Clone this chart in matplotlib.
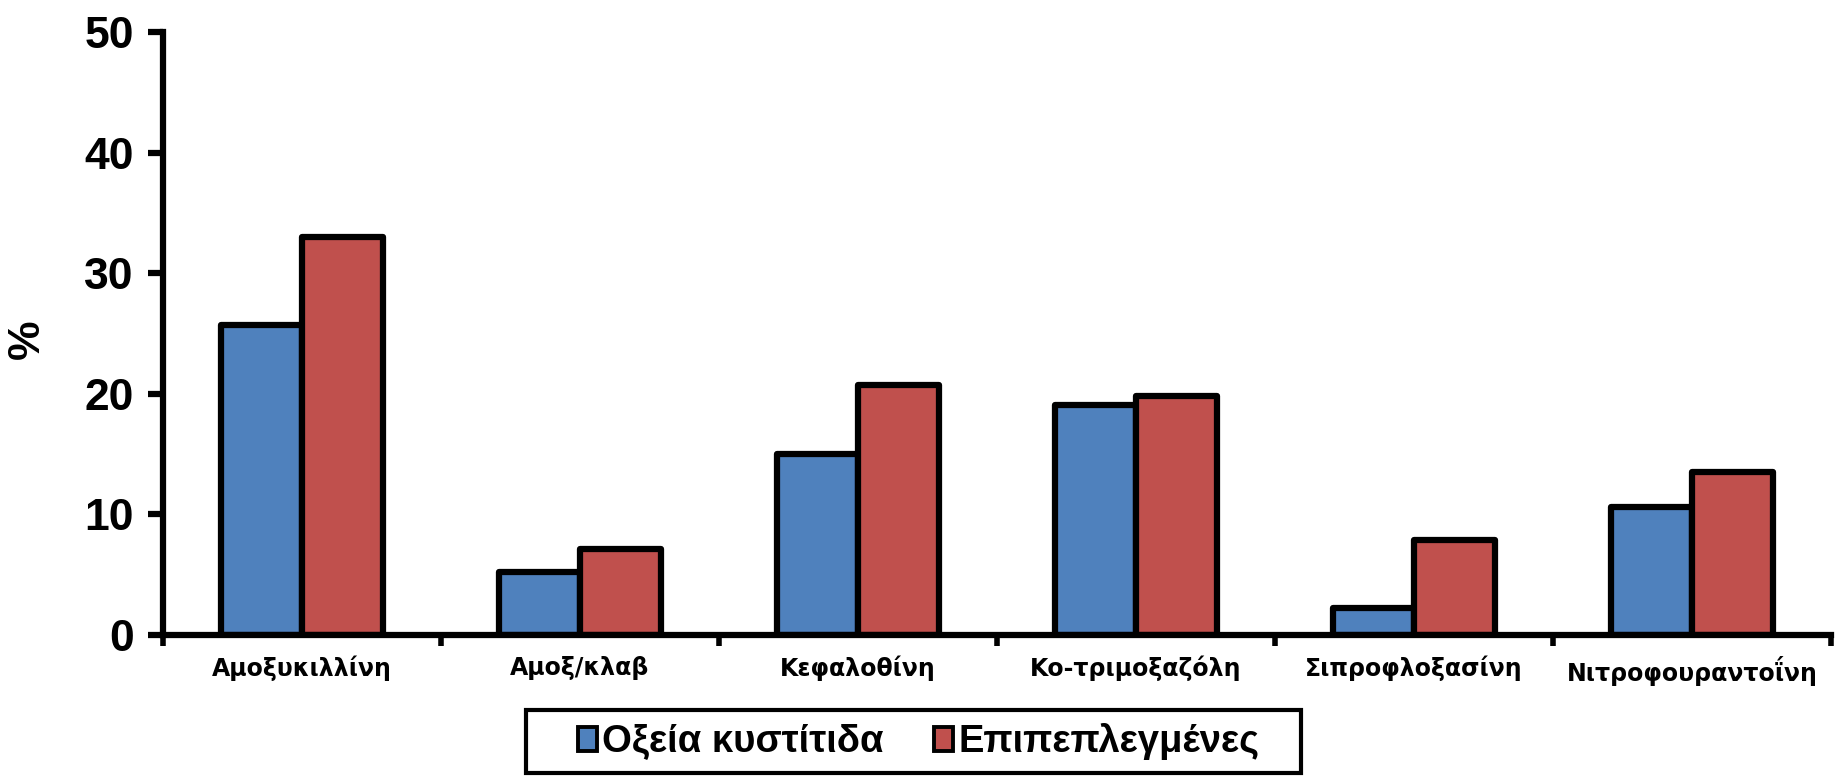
import numpy as np
import matplotlib.pyplot as plt
from matplotlib.patches import Patch, Rectangle

plt.rcParams['font.family'] = ['Liberation Sans', 'DejaVu Sans']
plt.rcParams['font.weight'] = 'bold'

antibiotics = ['Αμοξυκιλλίνη', 'Αμοξ/κλαβ', 'Κεφαλοθίνη', 'Κο-τριμοξαζόλη',
               'Σιπροφλοξασίνη', 'Νιτροφουραντοΐνη']
acute = [25.7, 5.2, 15.0, 19.1, 2.2, 10.6]
complicated = [33.0, 7.1, 20.7, 19.8, 7.9, 13.5]
series_names = ['Οξεία κυστίτιδα', 'Επιπεπλεγμένες']
colors = ['#4F81BD', '#C0504D']

fig = plt.figure(figsize=(18.37, 7.76), dpi=100)
ax = fig.add_axes([0.0887, 0.1817, 0.908, 0.7771])

x = np.arange(len(antibiotics))
w = 0.29
for i, vals in enumerate([acute, complicated]):
    bars = ax.bar(x + (i - 0.5) * w, vals, w, color=colors[i], edgecolor='black',
                  linewidth=4.5, zorder=3)
    for b in bars:
        b.set_joinstyle('round')

ax.set_xlim(-0.5, len(antibiotics) - 0.5)
ax.set_ylim(0, 50)
ax.set_yticks(range(0, 51, 10))
ax.set_xticks(np.arange(len(antibiotics) + 1) - 0.5)
ax.set_xticklabels([])
ax.set_xticks(x, minor=True)
ax.set_xticklabels(antibiotics, minor=True, fontsize=17, fontweight='bold',
                   fontfamily=['DejaVu Sans'])
ax.tick_params(axis='x', which='minor', length=0, pad=15)
ax.tick_params(axis='x', which='major', direction='out', length=8, width=4)
ax.tick_params(axis='y', direction='out', length=11, width=4.5, labelsize=32, pad=10)
for lab in ax.get_yticklabels():
    lab.set_fontweight('bold')

for side in ['top', 'right']:
    ax.spines[side].set_visible(False)
for side in ['left', 'bottom']:
    ax.spines[side].set_linewidth(4.5)
    ax.spines[side].set_zorder(4)

ax.set_ylabel('%', fontsize=32, fontweight='bold')
ax.yaxis.label.set_va('center')
ax.yaxis.set_label_coords(-0.0815, 0.49)

# legend box drawn by hand so it can be wider than the entries
handles = [Patch(facecolor=c, edgecolor='black', linewidth=2.8) for c in colors]
fig.legend(handles, series_names, loc='center', bbox_to_anchor=(0.5, 0.044),
           ncol=2, frameon=False, prop={'size': 27.5, 'weight': 'bold'},
           handlelength=0.5, handleheight=0.6, handletextpad=0.14,
           columnspacing=1.3, borderpad=0, borderaxespad=0)
fig.patches.append(Rectangle((0.2864, 0.004), 0.4216, 0.0805, transform=fig.transFigure,
                             fill=False, edgecolor='black', linewidth=3))

fig.savefig('out.png', dpi=100)
